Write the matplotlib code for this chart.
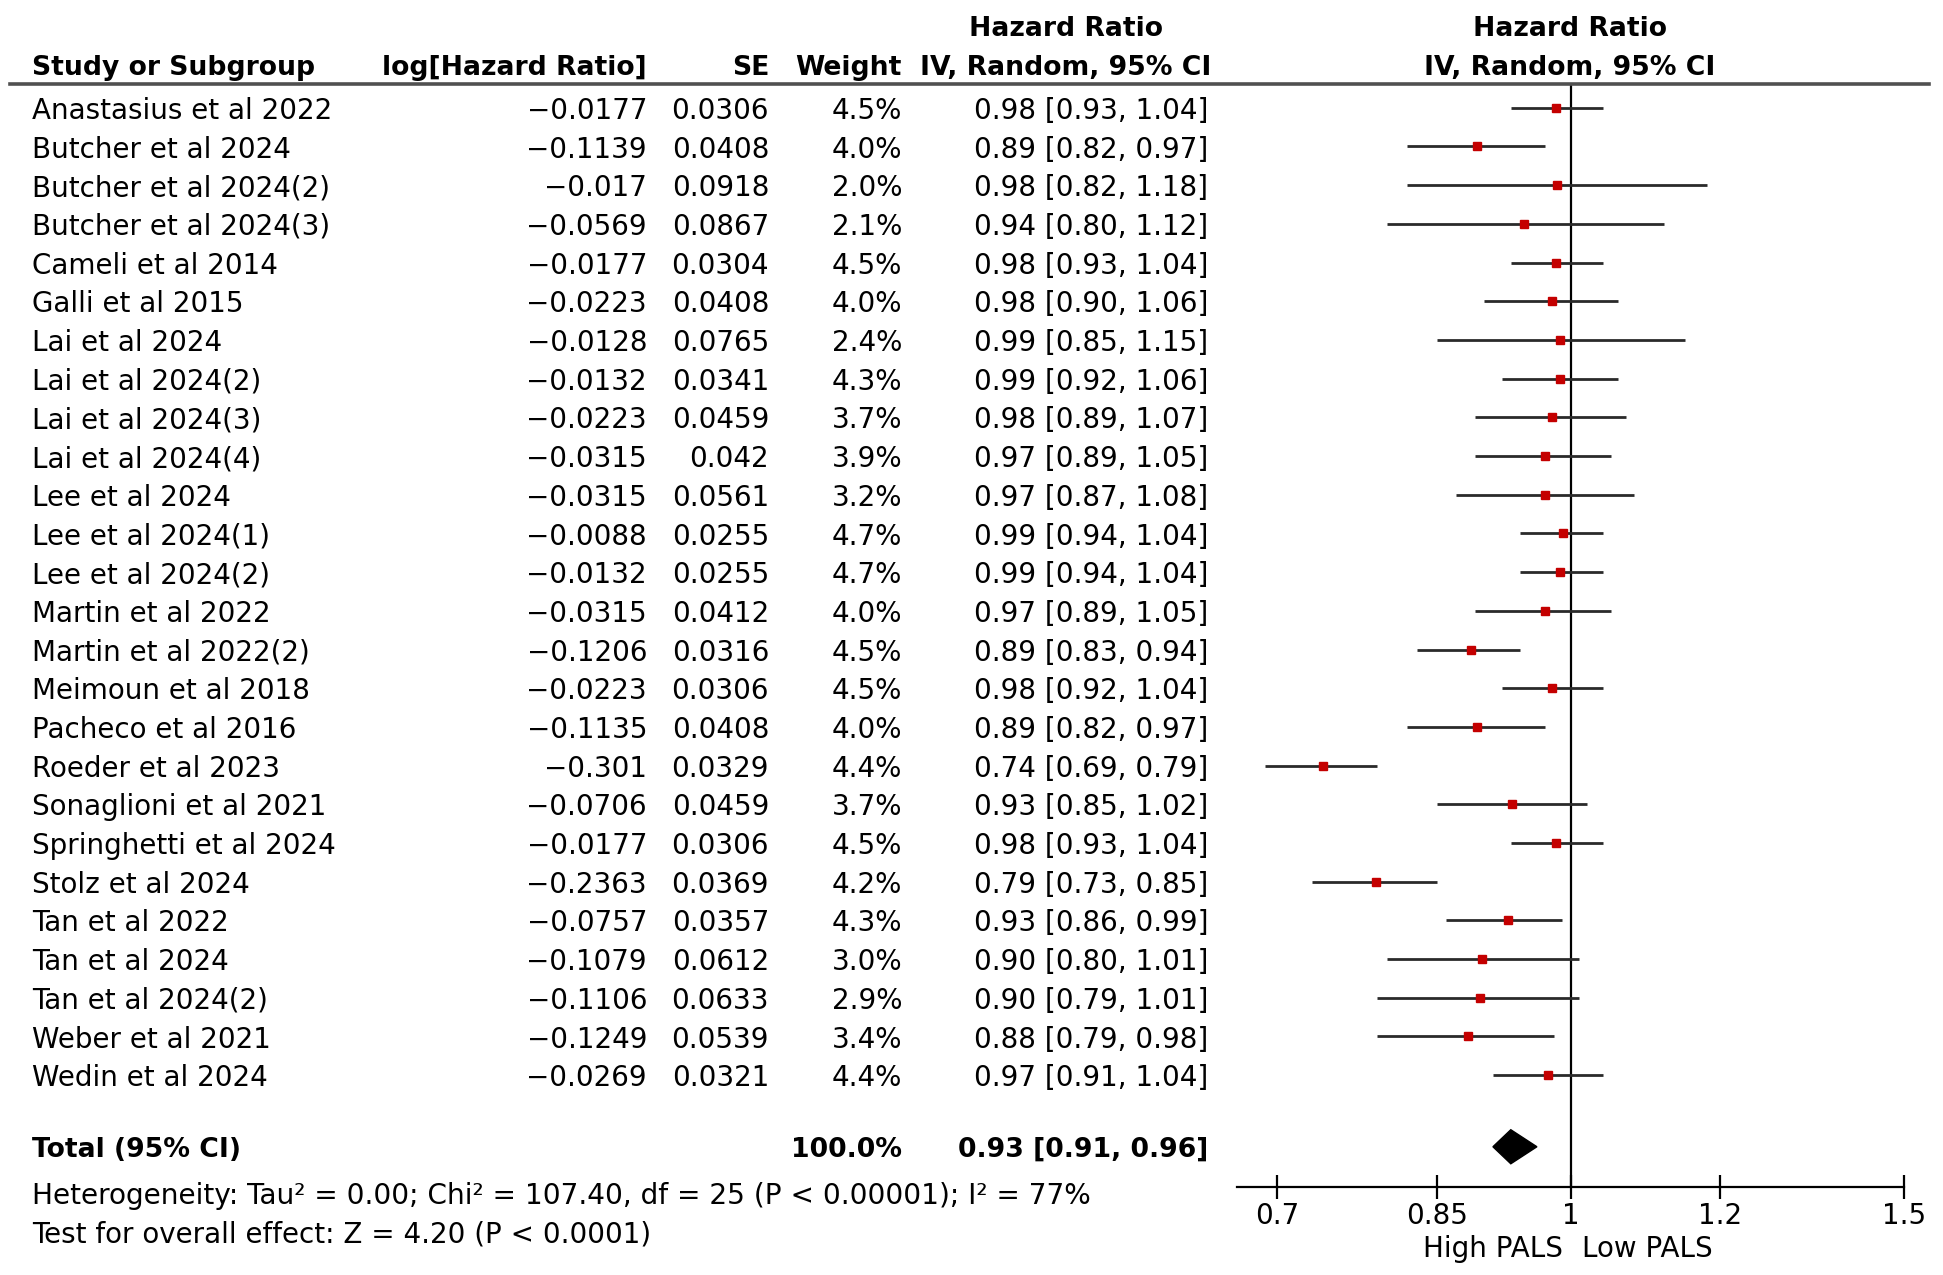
#!/usr/bin/env python3
"""
Forest plot: High vs Low PALS, hazard ratios (IV, random effects).
Writes out.png
"""

import numpy as np
import matplotlib
matplotlib.use("Agg")
import matplotlib.pyplot as plt
from matplotlib.lines import Line2D
from matplotlib.patches import Polygon
from matplotlib.ticker import FixedLocator, NullLocator
from matplotlib import transforms


STUDIES = [
    "Anastasius et al 2022", "Butcher et al 2024", "Butcher et al 2024(2)",
    "Butcher et al 2024(3)", "Cameli et al 2014", "Galli et al 2015",
    "Lai et al 2024", "Lai et al 2024(2)", "Lai et al 2024(3)",
    "Lai et al 2024(4)", "Lee et al 2024", "Lee et al 2024(1)",
    "Lee et al 2024(2)", "Martin et al 2022", "Martin et al 2022(2)",
    "Meimoun et al 2018", "Pacheco et al 2016", "Roeder et al 2023",
    "Sonaglioni et al 2021", "Springhetti et al 2024", "Stolz et al 2024",
    "Tan et al 2022", "Tan et al 2024", "Tan et al 2024(2)",
    "Weber et al 2021", "Wedin et al 2024",
]
LOG_HR = [
    -0.0177, -0.1139, -0.017, -0.0569, -0.0177, -0.0223, -0.0128, -0.0132,
    -0.0223, -0.0315, -0.0315, -0.0088, -0.0132, -0.0315, -0.1206, -0.0223,
    -0.1135, -0.301, -0.0706, -0.0177, -0.2363, -0.0757, -0.1079, -0.1106,
    -0.1249, -0.0269,
]
SE = [
    0.0306, 0.0408, 0.0918, 0.0867, 0.0304, 0.0408, 0.0765, 0.0341,
    0.0459, 0.042, 0.0561, 0.0255, 0.0255, 0.0412, 0.0316, 0.0306,
    0.0408, 0.0329, 0.0459, 0.0306, 0.0369, 0.0357, 0.0612, 0.0633,
    0.0539, 0.0321,
]
WEIGHT = [
    4.5, 4.0, 2.0, 2.1, 4.5, 4.0, 2.4, 4.3, 3.7, 3.9, 3.2, 4.7, 4.7,
    4.0, 4.5, 4.5, 4.0, 4.4, 3.7, 4.5, 4.2, 4.3, 3.0, 2.9, 3.4, 4.4,
]
HR = [
    0.98, 0.89, 0.98, 0.94, 0.98, 0.98, 0.99, 0.99, 0.98, 0.97, 0.97, 0.99,
    0.99, 0.97, 0.89, 0.98, 0.89, 0.74, 0.93, 0.98, 0.79, 0.93, 0.90, 0.90,
    0.88, 0.97,
]
CI_LO = [
    0.93, 0.82, 0.82, 0.80, 0.93, 0.90, 0.85, 0.92, 0.89, 0.89, 0.87, 0.94,
    0.94, 0.89, 0.83, 0.92, 0.82, 0.69, 0.85, 0.93, 0.73, 0.86, 0.80, 0.79,
    0.79, 0.91,
]
CI_HI = [
    1.04, 0.97, 1.18, 1.12, 1.04, 1.06, 1.15, 1.06, 1.07, 1.05, 1.08, 1.04,
    1.04, 1.05, 0.94, 1.04, 0.97, 0.79, 1.02, 1.04, 0.85, 0.99, 1.01, 1.01,
    0.98, 1.04,
]

TOTAL_WEIGHT = 100.0
TOTAL_HR = 0.93
TOTAL_LO = 0.91
TOTAL_HI = 0.96

X_TICKS = [0.7, 0.85, 1, 1.2, 1.5]
X_TICK_LABELS = ["0.7", "0.85", "1", "1.2", "1.5"]

HETEROGENEITY = "Heterogeneity: Tau\u00b2 = 0.00; Chi\u00b2 = 107.40, df = 25 (P < 0.00001); I\u00b2 = 77%"
OVERALL = "Test for overall effect: Z = 4.20 (P < 0.0001)"

FS = 20
FS_HEAD = 19.2
W, H = 1943, 1275
TEXT_DY = 0.08  # nudge so glyphs sit on the row centre like the original


def num(v: float) -> str:
    return str(v).replace("-", "\u2212")


def main() -> None:
    plt.rcParams["font.family"] = ["DejaVu Sans"]
    fig = plt.figure(figsize=(W / 100, H / 100), dpi=100)

    n = len(STUDIES)
    rows = np.arange(n)
    total_row = n + 0.85

    # forest axes, y in row units (row 0 at top)
    ax = fig.add_axes([1237 / W, 1 - 1187 / H, 667 / W, (1187 - 84) / H])
    ax.set_xscale("log")
    ax.set_xlim(1 / 1.5, 1.5)
    ax.set_ylim(27.89, -0.615)

    for s in ["top", "right", "left"]:
        ax.spines[s].set_visible(False)
    ax.spines["bottom"].set_linewidth(1.6)
    ax.xaxis.set_major_locator(FixedLocator(X_TICKS))
    ax.xaxis.set_minor_locator(NullLocator())
    ax.set_xticklabels(X_TICK_LABELS)
    ax.tick_params(axis="x", direction="inout", length=17, width=1.6,
                   labelsize=FS, pad=2)
    ax.set_yticks([])
    ax.patch.set_alpha(0)

    ax.axvline(1, color="black", lw=1.6, zorder=1)

    for i in rows:
        ax.plot([CI_LO[i], CI_HI[i]], [i, i], color="#2a2a2a", lw=2.0,
                solid_capstyle="butt", zorder=2)
    ax.plot(np.exp(LOG_HR), rows, ls="none", marker="s", ms=5.5,
            color="#c40000", mec="#c40000", zorder=3)

    half_h = 0.44
    diamond = Polygon(
        [[TOTAL_LO, total_row], [TOTAL_HR, total_row - half_h],
         [TOTAL_HI, total_row], [TOTAL_HR, total_row + half_h]],
        closed=True, color="black", zorder=3)
    ax.add_patch(diamond)

    # table text: x in figure fraction, y in row units
    tr = transforms.blended_transform_factory(fig.transFigure, ax.transData)
    x_study = 32 / W
    x_log = 647 / W
    x_se = 769 / W
    x_wt = 902 / W
    x_ci = 1208 / W
    x_cihead = 1066 / W
    x_plothead = 1570 / W

    def put(x, y, s, ha="left", bold=False, size=FS):
        ax.text(x, y + TEXT_DY, s, transform=tr, ha=ha, va="center",
                fontsize=size, fontweight="bold" if bold else "normal",
                clip_on=False)

    h1, h2 = -2.12, -1.12
    put(x_study, h2, "Study or Subgroup", bold=True, size=FS_HEAD)
    put(x_log, h2, "log[Hazard Ratio]", ha="right", bold=True, size=FS_HEAD)
    put(x_se, h2, "SE", ha="right", bold=True, size=FS_HEAD)
    put(x_wt, h2, "Weight", ha="right", bold=True, size=FS_HEAD)
    put(x_cihead, h1, "Hazard Ratio", ha="center", bold=True, size=FS_HEAD)
    put(x_cihead, h2, "IV, Random, 95% CI", ha="center", bold=True, size=FS_HEAD)
    put(x_plothead, h1, "Hazard Ratio", ha="center", bold=True, size=FS_HEAD)
    put(x_plothead, h2, "IV, Random, 95% CI", ha="center", bold=True, size=FS_HEAD)

    fig.add_artist(Line2D([10 / W, 1929 / W], [-0.615, -0.615], transform=tr,
                          color="#505050", lw=2.6))

    for i in rows:
        put(x_study, i, STUDIES[i])
        put(x_log, i, num(LOG_HR[i]), ha="right")
        put(x_se, i, num(SE[i]), ha="right")
        put(x_wt, i, f"{WEIGHT[i]:.1f}%", ha="right")
        put(x_ci, i, f"{HR[i]:.2f} [{CI_LO[i]:.2f}, {CI_HI[i]:.2f}]", ha="right")

    put(x_study, total_row, "Total (95% CI)", bold=True, size=FS_HEAD)
    put(x_wt, total_row, f"{TOTAL_WEIGHT:.1f}%", ha="right", bold=True,
        size=FS_HEAD)
    put(x_ci, total_row, f"{TOTAL_HR:.2f} [{TOTAL_LO:.2f}, {TOTAL_HI:.2f}]",
        ha="right", bold=True, size=FS_HEAD)

    put(x_study, n + 2.04, HETEROGENEITY, size=FS + 0.2)
    put(x_study, n + 3.04, OVERALL)

    put(1563 / W, n + 3.4, "High PALS", ha="right")
    put(1582 / W, n + 3.4, "Low PALS", ha="left")

    fig.savefig("out.png", dpi=100)
    plt.close(fig)


if __name__ == "__main__":
    main()
